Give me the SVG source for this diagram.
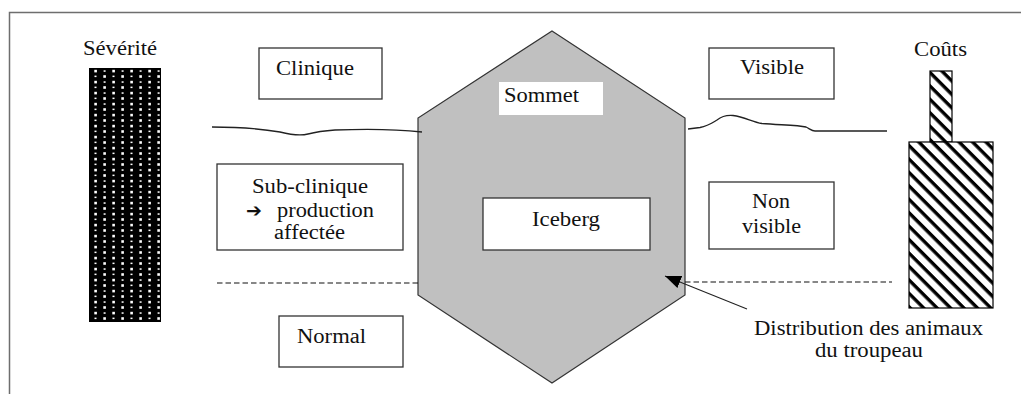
<svg xmlns="http://www.w3.org/2000/svg" width="1021" height="394" viewBox="0 0 1021 394">
<style>
.box{fill:#fff;stroke:#333;stroke-width:1.3}
.frame{stroke:#6e6e6e;stroke-width:1.5;fill:none}
.wave{fill:none;stroke:#222;stroke-width:1.3}
.dash{fill:none;stroke:#111;stroke-width:1.2;stroke-dasharray:5.5 3}
</style>
<defs>
<pattern id="dots" x="89" y="68" width="18" height="11" patternUnits="userSpaceOnUse">
<rect width="18" height="11" fill="#000"/>
<rect x="5.3" y="1.8" width="2.6" height="2.6" fill="#fff"/>
<rect x="14.6" y="2.3" width="2" height="1.5" fill="#fff"/>
<rect x="5.5" y="7.6" width="2" height="1.5" fill="#fff"/>
<rect x="14.3" y="7.2" width="2.6" height="2.6" fill="#fff"/>
</pattern>
<pattern id="hatch" x="0" y="0" width="9.5" height="9.5" patternUnits="userSpaceOnUse" patternTransform="rotate(45)">
<rect width="9.5" height="9.5" fill="#fff"/>
<rect y="0" width="9.5" height="3.4" fill="#000"/>
</pattern>
<marker id="ah" markerUnits="userSpaceOnUse" markerWidth="18" markerHeight="14" refX="16" refY="6.5" orient="auto">
<path d="M0,0 L16,6.5 L0,13 z" fill="#000"/>
</marker>
</defs>
<rect width="1021" height="394" fill="#fff"/>
<path class="frame" d="M9.5,394 V12.5 H1021"/>

<g font-family="Liberation Serif, serif" font-size="20" fill="#111">

<g id="severite">
<text x="83" y="55" textLength="74" lengthAdjust="spacingAndGlyphs">Sévérité</text>
<rect x="89" y="68" width="72" height="254" fill="url(#dots)"/>
</g>

<g id="couts">
<text x="914" y="56" textLength="53" lengthAdjust="spacingAndGlyphs">Coûts</text>
<rect x="930" y="71" width="22" height="71" fill="url(#hatch)" stroke="#000" stroke-width="1.2"/>
<rect x="909" y="142" width="84" height="166" fill="url(#hatch)" stroke="#000" stroke-width="1.2"/>
</g>

<g id="clinique">
<rect class="box" x="259" y="48" width="123" height="51"/>
<text x="276" y="75" textLength="78" lengthAdjust="spacingAndGlyphs">Clinique</text>
</g>

<g id="subclinique">
<rect class="box" x="217" y="164" width="186" height="86"/>
<text x="252" y="193" textLength="116" lengthAdjust="spacingAndGlyphs">Sub-clinique</text>
<text><tspan x="246" y="217" font-family="DejaVu Sans, sans-serif" font-size="19" font-weight="bold">➔ </tspan><tspan x="277" y="217" textLength="97" lengthAdjust="spacingAndGlyphs">production</tspan></text>
<text x="274" y="239" textLength="71" lengthAdjust="spacingAndGlyphs">affectée</text>
</g>

<g id="normal">
<rect class="box" x="279" y="316" width="124" height="51"/>
<text x="297" y="343" textLength="69" lengthAdjust="spacingAndGlyphs">Normal</text>
</g>

<g id="iceberg-shape">
<polygon points="552,31 685,118 685,295 552,383 418,295 418,118" fill="#c0c0c0" stroke="#333" stroke-width="1.2"/>
</g>

<g id="sommet">
<rect x="499" y="82" width="104" height="33" fill="#fff"/>
<text x="504" y="102" textLength="75" lengthAdjust="spacingAndGlyphs">Sommet</text>
</g>

<g id="iceberg">
<rect class="box" x="483" y="198" width="167" height="52"/>
<text x="532" y="226" textLength="68" lengthAdjust="spacingAndGlyphs">Iceberg</text>
</g>

<g id="visible">
<rect class="box" x="709" y="48" width="125" height="51"/>
<text x="740" y="74" textLength="64" lengthAdjust="spacingAndGlyphs">Visible</text>
</g>

<g id="nonvisible">
<rect class="box" x="709" y="182" width="125" height="67"/>
<text x="752" y="208" textLength="38" lengthAdjust="spacingAndGlyphs">Non</text>
<text x="742" y="233" textLength="59" lengthAdjust="spacingAndGlyphs">visible</text>
</g>

<g id="distribution">
<text x="754" y="335" textLength="229" lengthAdjust="spacingAndGlyphs">Distribution des animaux</text>
<text x="815" y="357" textLength="108" lengthAdjust="spacingAndGlyphs">du troupeau</text>
</g>

</g>

<g id="connectors">
<path class="wave" d="M212,127 C240,127 262,129 280,132 C292,135 300,136 308,134 C316,132 322,131 335,130 C360,129 395,129 422,132"/>
<path class="wave" d="M688,129 L700,127.5 C708,126 712,123 717,120 C722,116 727,115 733,115.5 C745,117 752,122 762,123.5 C780,125 798,125 806,127 C810,129 812,131 815,131 L887,131"/>
<path class="dash" d="M217,283 H418"/>
<path class="dash" d="M685,282 H892"/>
<path d="M747,309 L665,276" stroke="#222" stroke-width="1.1" fill="none" marker-end="url(#ah)"/>
</g>
</svg>
